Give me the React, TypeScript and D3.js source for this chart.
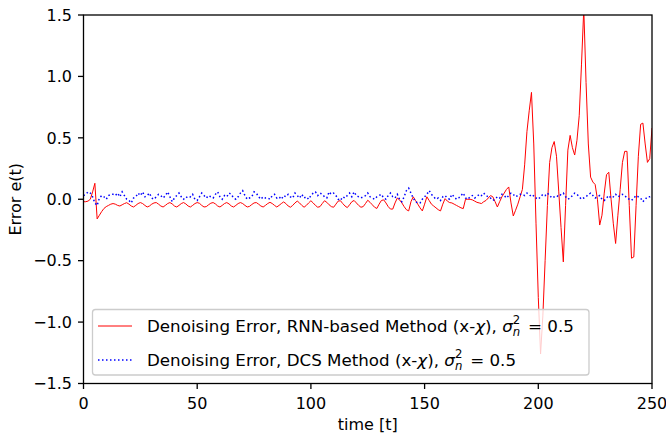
import React from "react";
import * as d3 from "d3";

const rnnError: number[] = [
  -0.02, -0.02, -0.015, 0.0, 0.06, 0.13, -0.16, -0.13, -0.1, -0.075,
  -0.06, -0.05, -0.04, -0.035, -0.04, -0.05, -0.055, -0.045, -0.035, -0.028,
  -0.04, -0.055, -0.063, -0.05, -0.035, -0.027, -0.035, -0.05, -0.063, -0.055,
  -0.04, -0.03, -0.027, -0.04, -0.055, -0.063, -0.05, -0.035, -0.027, -0.038,
  -0.055, -0.063, -0.05, -0.035, -0.027, -0.038, -0.055, -0.063, -0.05, -0.035,
  -0.027, -0.033, -0.05, -0.063, -0.06, -0.045, -0.032, -0.027, -0.038, -0.055,
  -0.063, -0.05, -0.035, -0.027, -0.038, -0.055, -0.063, -0.05, -0.035, -0.027,
  -0.035, -0.05, -0.063, -0.058, -0.043, -0.03, -0.027, -0.04, -0.055, -0.063,
  -0.05, -0.035, -0.025, -0.035, -0.05, -0.063, -0.05, -0.035, -0.022, -0.035,
  -0.055, -0.065, -0.05, -0.03, -0.015, -0.03, -0.05, -0.065, -0.05, -0.03,
  -0.012, -0.03, -0.05, -0.065, -0.06, -0.035, -0.012, -0.025, -0.045, -0.06,
  -0.065, -0.04, -0.015, -0.012, -0.035, -0.055, -0.068, -0.045, -0.02, -0.01,
  -0.03, -0.05, -0.065, -0.06, -0.035, -0.008, -0.025, -0.045, -0.065, -0.075,
  -0.04, -0.01, -0.005, -0.03, -0.06, -0.08, -0.08, -0.03, 0.01, -0.005,
  -0.03, -0.06, -0.085, -0.095, -0.02, 0.02, -0.01, -0.04, -0.07, -0.095,
  -0.04, 0.02, -0.01, -0.04, -0.055, -0.07, -0.085, -0.095, -0.04, 0.005,
  -0.015, -0.027, -0.03, -0.04, -0.05, -0.06, -0.07, -0.076, 0.0, 0.0,
  0.0, -0.005, -0.015, -0.025, -0.03, -0.035, -0.02, -0.01, 0.01, 0.03,
  0.02, -0.02, -0.063, -0.02, 0.02, 0.05, 0.08, 0.1, -0.03, -0.136,
  -0.09, -0.04, 0.02, 0.08, 0.28, 0.55, 0.72, 0.87, 0.45, -0.2,
  -0.8, -1.26, -0.95, -0.5, -0.05, 0.3, 0.42, 0.47, 0.35, 0.06,
  -0.23, -0.51, -0.05, 0.4, 0.52, 0.42, 0.36, 0.48, 0.68, 1.1,
  1.55, 0.95, 0.45, 0.18, 0.14, 0.12, 0.0, -0.21, -0.13, 0.05,
  0.2, 0.22, 0.0, -0.2, -0.36, -0.13, 0.08, 0.3, 0.39, 0.39,
  -0.05, -0.48, -0.47, -0.05, 0.35, 0.61, 0.62, 0.45, 0.3, 0.33,
  0.58,
];

const dcsError: number[] = [
  0.03, 0.04, 0.06, 0.05, 0.02, -0.03, -0.05, 0.01, 0.03, 0.02,
  0.0, 0.03, 0.04, 0.04, 0.03, 0.05, 0.02, 0.06, 0.03, 0.0,
  -0.01, -0.03, 0.01, 0.02, 0.05, 0.03, 0.06, 0.02, 0.03, 0.05,
  0.01, 0.0, 0.02, 0.04, 0.03, 0.01, 0.03, 0.06, 0.02, -0.02,
  0.01, 0.03, 0.05, 0.02, 0.0, 0.02, 0.01, 0.02, 0.04, 0.0,
  -0.01, 0.02, 0.05, 0.03, 0.01, 0.03, 0.02, 0.01, 0.04, 0.06,
  0.02, 0.0, 0.03, 0.02, 0.05, 0.04, 0.01, 0.0, 0.02, 0.05,
  0.07, 0.03, 0.0, 0.01, 0.02, 0.06, 0.05, 0.02, 0.0, 0.02,
  0.01, 0.01, 0.0, 0.03, 0.04, 0.01, 0.02, 0.0, 0.03, 0.02,
  0.04, 0.02, 0.01, 0.05, 0.03, 0.01, 0.04, 0.01, 0.02, 0.0,
  0.03, 0.05, 0.06, 0.03, 0.05, 0.04, 0.02, 0.01, 0.06, 0.04,
  0.05, 0.03, 0.0, -0.01, 0.02, 0.01, 0.03, 0.05, 0.02, 0.06,
  0.03, 0.02, 0.01, 0.02, 0.03, 0.05, 0.02, 0.01, 0.0, 0.02,
  0.03, 0.04, 0.01, 0.0, 0.03, 0.05, 0.02, 0.01, 0.04, 0.0,
  -0.02, 0.02, 0.07, 0.09, 0.05, 0.01, -0.02, -0.03, -0.03, 0.0,
  0.02, 0.04, 0.07, 0.04, 0.02, 0.0, 0.01, -0.01, 0.02, 0.03,
  0.01, 0.0, 0.04, 0.02, 0.0, 0.01, 0.03, 0.05, 0.01, 0.0,
  0.02, 0.03, 0.01, 0.02, 0.04, 0.03, 0.05, 0.03, 0.02, 0.01,
  -0.01, 0.0, 0.02, 0.01, 0.04, 0.03, 0.01, 0.03, 0.05, 0.04,
  0.02, 0.03, 0.04, 0.04, 0.03, 0.05, 0.04, 0.02, 0.03, 0.01,
  0.0, 0.02, 0.04, 0.03, 0.05, 0.03, 0.01, 0.02, 0.03, 0.02,
  0.04, 0.05, 0.02, 0.0, 0.01, 0.03, 0.05, 0.04, 0.02, 0.0,
  0.01, 0.02, 0.04, 0.05, 0.03, 0.01, 0.02, 0.03, 0.0, -0.01,
  0.01, 0.03, 0.01, 0.02, 0.04, 0.02, 0.03, 0.04, 0.03, 0.01,
  0.0, -0.01, 0.01, 0.03, 0.02, 0.01, -0.02, 0.0, 0.02, 0.02,
  0.03,
];

const xTicks: number[] = [0, 50, 100, 150, 200, 250];
const xTickLabels: string[] = ["0", "50", "100", "150", "200", "250"];
const yTicks: number[] = [-1.5, -1.0, -0.5, 0.0, 0.5, 1.0, 1.5];
const yTickLabels: string[] = ["−1.5", "−1.0", "−0.5", "0.0", "0.5", "1.0", "1.5"];
const legendPrefixes: string[] = [
  "Denoising Error, RNN-based Method (x-",
  "Denoising Error, DCS Method (x-",
];

const W = 666;
const H = 437;
const M = { left: 83.5, right: 652, top: 15, bottom: 383.5 };
const FONT = "'DejaVu Sans', sans-serif";
const FS = 16;
const LFS = 16.7;

export default function App() {
  const x = d3.scaleLinear().domain([0, 250]).range([M.left, M.right]);
  const y = d3.scaleLinear().domain([-1.5, 1.5]).range([M.bottom, M.top]);
  const line = d3
    .line<number>()
    .x((_, i) => x(i))
    .y((d) => y(d));

  const legX = 92.5;
  const legY = 309.5;
  const legW = 496.5;
  const legH = 65.5;
  const rows = [326, 360];
  const colors = ["#ff0000", "#0000ff"];

  const subFS = LFS * 0.7;

  return (
    <svg
      width={W}
      height={H}
      style={{ position: "absolute", left: 0, top: 0, background: "#fff" }}
      fontFamily={FONT}
    >
      <defs>
        <clipPath id="plotClip">
          <rect x={M.left} y={M.top} width={M.right - M.left} height={M.bottom - M.top} />
        </clipPath>
      </defs>
      <rect x={0} y={0} width={W} height={H} fill="#fff" />
      <g clipPath="url(#plotClip)">
        <path d={line(rnnError) || ""} fill="none" stroke="#ff0000" strokeWidth={1} strokeLinejoin="round" />
        <path
          d={line(dcsError) || ""}
          fill="none"
          stroke="#0000ff"
          strokeWidth={1.5}
          strokeDasharray="1.5 2.5"
        />
      </g>

      {/* legend */}
      <rect
        x={legX}
        y={legY}
        width={legW}
        height={legH}
        rx={3}
        ry={3}
        fill="#fff"
        fillOpacity={0.8}
        stroke="#cccccc"
        strokeWidth={1.3}
      />
      {rows.map((ry, i) => (
        <g key={"leg" + i}>
          <line
            x1={98}
            x2={132}
            y1={ry}
            y2={ry}
            stroke={colors[i]}
            strokeWidth={i === 0 ? 1 : 1.5}
            strokeDasharray={i === 0 ? undefined : "1.5 2.5"}
          />
          <text x={147} y={ry + 5.9} fontSize={LFS} fill="#000">
            <tspan>{legendPrefixes[i]}</tspan>
            <tspan fontStyle="italic">χ</tspan>
            <tspan>), </tspan>
            <tspan fontStyle="italic">σ</tspan>
            <tspan fontSize={subFS} dy={-7.5}>2</tspan>
            <tspan fontSize={subFS} fontStyle="italic" dx={-7.4} dy={11.5}>n</tspan>
            <tspan dy={-4} dx={2.5}> = 0.5</tspan>
          </text>
        </g>
      ))}

      {/* axes frame */}
      <rect
        x={M.left}
        y={M.top}
        width={M.right - M.left}
        height={M.bottom - M.top}
        fill="none"
        stroke="#000"
        strokeWidth={1.3}
      />

      {/* x ticks */}
      {xTicks.map((t, i) => (
        <g key={"x" + t}>
          <line x1={x(t)} x2={x(t)} y1={M.bottom} y2={M.bottom + 5.5} stroke="#000" strokeWidth={1.3} />
          <text x={x(t)} y={M.bottom + 25.5} fontSize={FS} textAnchor="middle" fill="#000">
            {xTickLabels[i]}
          </text>
        </g>
      ))}
      {/* y ticks */}
      {yTicks.map((t, i) => (
        <g key={"y" + t}>
          <line x1={M.left - 5.5} x2={M.left} y1={y(t)} y2={y(t)} stroke="#000" strokeWidth={1.3} />
          <text x={M.left - 11.5} y={y(t) + 5.8} fontSize={FS} textAnchor="end" fill="#000">
            {yTickLabels[i]}
          </text>
        </g>
      ))}

      <text x={(M.left + M.right) / 2} y={430} fontSize={FS} textAnchor="middle" fill="#000">
        time [t]
      </text>
      <text
        transform={`translate(21, ${(M.top + M.bottom) / 2}) rotate(-90)`}
        fontSize={FS}
        textAnchor="middle"
        fill="#000"
      >
        Error e(t)
      </text>
    </svg>
  );
}
